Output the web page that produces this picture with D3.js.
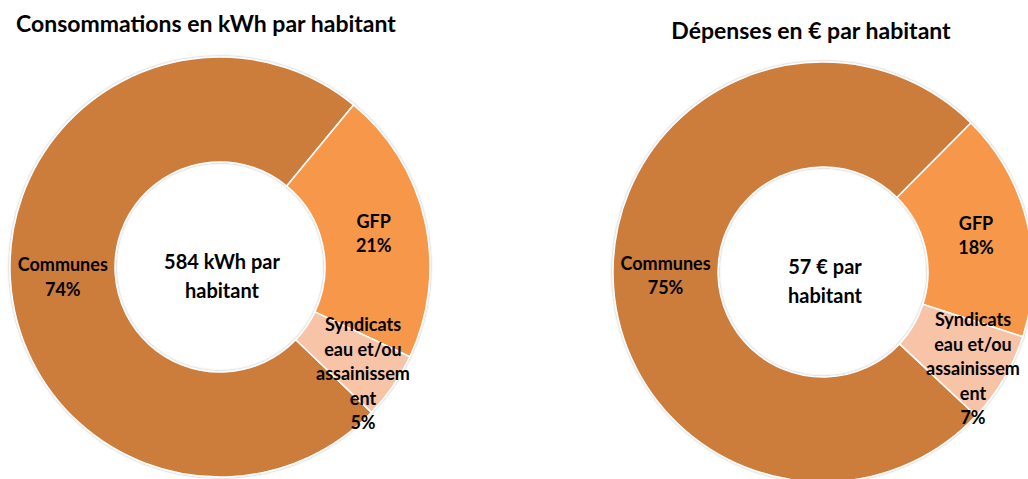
<!DOCTYPE html>
<html><head><meta charset="utf-8">
<script src="https://cdn.jsdelivr.net/npm/d3@7"></script>
<style>
html,body{margin:0;padding:0;background:#fff;}
svg{display:block;}
text{font-family:Lato,"Open Sans",sans-serif;font-weight:bold;fill:#000;}
</style></head>
<body>
<svg id="chart" width="1028" height="479"></svg>
<script>
// Data
const categories = ["Communes", "GFP", "Syndicats eau et/ou assainissement"];
const labelLines = [["Communes"], ["GFP"], ["Syndicats", "eau et/ou", "assainissem", "ent"]];
const consoValues = [431, 123, 30];      // kWh par habitant
const depensesValues = [43, 10, 4];      // € par habitant
const titles = ["Consommations en kWh par habitant", "Dépenses en € par habitant"];
const centerTexts = [["584 kWh par", "habitant"], ["57 € par", "habitant"]];
const colors = ["#CC7B3A", "#F69749", "#F8C4A8"];

const svg = d3.select("#chart");
const defs = svg.append("defs");
const f = defs.append("filter").attr("id","sh").attr("x","-10%").attr("y","-10%").attr("width","120%").attr("height","120%");
f.append("feDropShadow").attr("dx",0).attr("dy",0).attr("stdDeviation",1.2).attr("flood-color","#000").attr("flood-opacity",0.35);

const color = d3.scaleOrdinal().domain(categories).range(colors);

const charts = [
  {values: consoValues, cx: 220, cy: 267, startDeg: 133.8, title: titles[0], titleX: 16, titleY: 32, titleAnchor: "start", center: centerTexts[0]},
  {values: depensesValues, cx: 823, cy: 272, startDeg: 133.2, title: titles[1], titleX: 811, titleY: 39, titleAnchor: "middle", center: centerTexts[1]}
];

const outerR = 210, innerR = 105;
const shift = 2*Math.PI/180;

charts.forEach(c => {
  svg.append("text").attr("x", c.titleX).attr("y", c.titleY)
    .attr("text-anchor", c.titleAnchor).style("font-size","23px").text(c.title);

  const data = categories.map((k,i)=>({key:k, value:c.values[i], lines:labelLines[i]}));
  const total = d3.sum(c.values);
  const start = c.startDeg*Math.PI/180;
  const pie = d3.pie().value(d=>d.value).sort(null).startAngle(start).endAngle(start+2*Math.PI);
  const arcs = pie(data);
  const arc = d3.arc().innerRadius(innerR).outerRadius(outerR);
  const g = svg.append("g").attr("transform",`translate(${c.cx},${c.cy})`);
  g.append("g").attr("filter","url(#sh)").selectAll("path").data(arcs).join("path")
    .attr("d", arc).attr("fill", d=>color(d.data.key))
    .attr("stroke","#fff").attr("stroke-width",1.5);

  const smallArc = d3.arc().innerRadius(178).outerRadius(178);
  arcs.forEach(d => {
    const frac = d.value/total;
    const [x,y] = frac < 0.1
      ? smallArc.centroid({startAngle:d.startAngle+shift, endAngle:d.endAngle+shift})
      : arc.centroid(d);
    const lines = d.data.lines.concat([Math.round(frac*100)+"%"]);
    const lh = 24.5;
    const first = y - 5 - (lines.length-2)*lh/2;
    const t = g.append("text").attr("text-anchor","middle").style("font-size","18px");
    lines.forEach((l,i)=> t.append("tspan").attr("x",x).attr("y",first+i*lh).text(l));
  });

  const ct = g.append("text").attr("text-anchor","middle").style("font-size","20px");
  c.center.forEach((l,i)=> ct.append("tspan").attr("x",2).attr("y",2+i*29).text(l));
});
</script>
</body></html>
